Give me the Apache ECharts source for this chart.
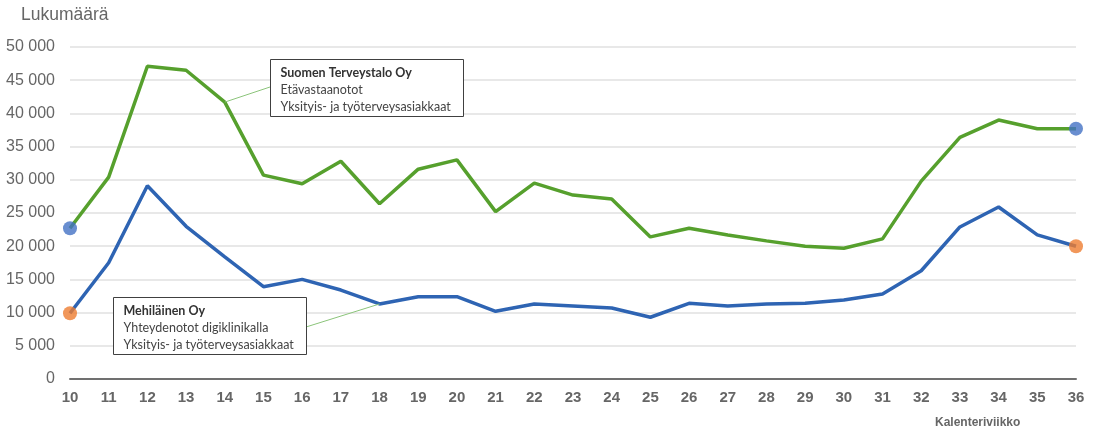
<!DOCTYPE html>
<html lang="fi">
<head>
    <meta charset="UTF-8">
    <title>Etävastaanotot</title>
    <script src="https://cdn.jsdelivr.net/npm/echarts@6/dist/echarts.min.js"></script>
</head>
<body style="margin:0">
    <div id="main" style="width:1098px; height:431px"></div>
    <script type="text/javascript">
        // kalenteriviikot
        var weeks = ['10','11','12','13','14','15','16','17','18','19','20','21','22','23','24','25','26','27','28','29','30','31','32','33','34','35','36'];
        // Suomen Terveystalo Oy
        var terveystalo = [22700, 30400, 47100, 46500, 41700, 30700, 29400, 32800, 26400, 31600, 33000, 25200, 29500, 27700, 27100, 21400, 22700, 21700, 20800, 20000, 19700, 21100, 29800, 36400, 39000, 37700, 37700];
        // Mehiläinen Oy
        var mehilainen = [9900, 17500, 29100, 23000, 18400, 13900, 15000, 13400, 11300, 12400, 12400, 10200, 11300, 11000, 10700, 9300, 11400, 11000, 11300, 11400, 11900, 12800, 16300, 22900, 25900, 21700, 20000];

        var boxTerveystalo = ['Suomen Terveystalo Oy', 'Etävastaanotot', 'Yksityis- ja työterveysasiakkaat'];
        var boxMehilainen = ['Mehiläinen Oy', 'Yhteydenotot digiklinikalla', 'Yksityis- ja työterveysasiakkaat'];

        var last = weeks.length - 1;
        var chart = echarts.init(document.getElementById('main'));

        function fmt(v) {
            if (v >= 1000) return Math.floor(v / 1000) + ' 000';
            return String(v);
        }

        function box(lines, x, y) {
            return {
                type: 'group', left: x, top: y,
                children: [
                    { type: 'rect', z: 20, shape: { x: 0, y: 0, width: 193, height: 57 },
                      style: { fill: '#fff', stroke: '#404040', lineWidth: 1 } },
                    { type: 'text', z: 21, x: 10, y: 7, style: { text: lines[0], font: 'bold 12.5px Lato', fill: '#333' } },
                    { type: 'text', z: 21, x: 10, y: 24, style: { text: lines[1], font: '12.5px Lato', fill: '#444' } },
                    { type: 'text', z: 21, x: 10, y: 41, style: { text: lines[2], font: '12.5px Lato', fill: '#444' } }
                ]
            };
        }

        var option = {
            animation: false,
            grid: { left: 70, right: 22, top: 47, bottom: 52 },
            xAxis: {
                type: 'category',
                data: weeks,
                boundaryGap: false,
                axisLine: { lineStyle: { color: '#707070', width: 2 } },
                axisTick: { show: false },
                axisLabel: { color: '#666', fontSize: 15, fontWeight: 'bold', fontFamily: 'Liberation Sans', margin: 11 }
            },
            yAxis: {
                type: 'value',
                min: 0, max: 50000, interval: 5000,
                axisLabel: { color: '#666', fontSize: 16, fontFamily: 'Liberation Sans', formatter: fmt, margin: 15 },
                splitLine: { lineStyle: { color: '#e0e0e0', width: 1.5 } }
            },
            series: [
                {
                    name: 'Suomen Terveystalo Oy', type: 'line', data: terveystalo,
                    showSymbol: false, lineStyle: { color: '#56A02D', width: 3.5 }, z: 3
                },
                {
                    name: 'Mehiläinen Oy', type: 'line', data: mehilainen,
                    showSymbol: false, lineStyle: { color: '#2E64B3', width: 3.5 }, z: 3
                },
                {
                    type: 'scatter', symbolSize: 14, z: 5,
                    itemStyle: { color: '#4472C4' },
                    data: [[0, terveystalo[0]], [last, terveystalo[last]]]
                },
                {
                    type: 'scatter', symbolSize: 14, z: 5,
                    itemStyle: { color: '#ED7D31' },
                    data: [[0, mehilainen[0]], [last, mehilainen[last]]]
                }
            ],
            graphic: [
                { type: 'text', left: 21, top: 6, style: { text: 'Lukumäärä', font: '17.5px Liberation Sans', fill: '#666' } },
                { type: 'text', left: 935, top: 417, style: { text: 'Kalenteriviikko', font: 'bold 12px Liberation Sans', fill: '#666' } },
                box(boxTerveystalo, 270, 59),
                box(boxMehilainen, 113, 297)
            ]
        };
        chart.setOption(option);

        // viittausviivat laatikoista käyriin
        var p1 = chart.convertToPixel({ seriesIndex: 0 }, [4, terveystalo[4]]);
        var p2 = chart.convertToPixel({ seriesIndex: 1 }, [8, mehilainen[8]]);
        chart.setOption({
            graphic: option.graphic.concat([
                { type: 'line', z: 4, shape: { x1: p1[0], y1: p1[1], x2: 270, y2: 87 }, style: { stroke: '#8BC47A', lineWidth: 1 } },
                { type: 'line', z: 4, shape: { x1: p2[0], y1: p2[1], x2: 306, y2: 327 }, style: { stroke: '#8BC47A', lineWidth: 1 } }
            ])
        });
    </script>
</body>
</html>
